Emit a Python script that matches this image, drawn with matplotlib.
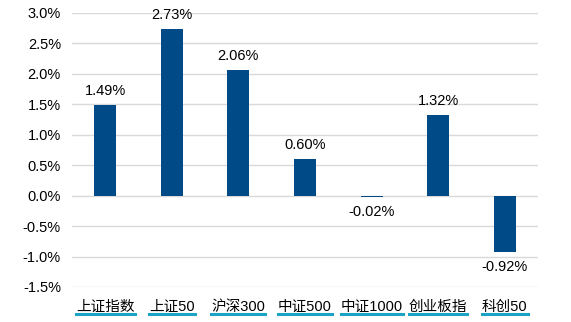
import matplotlib
matplotlib.use("Agg")
import matplotlib.pyplot as plt
from matplotlib.lines import Line2D

categories = ["上证指数", "上证50", "沪深300", "中证500", "中证1000", "创业板指", "科创50"]
values = [1.49, 2.73, 2.06, 0.60, -0.02, 1.32, -0.92]
yticks = [-1.5, -1.0, -0.5, 0.0, 0.5, 1.0, 1.5, 2.0, 2.5, 3.0]

FAM = ["Liberation Sans", "Noto Sans CJK SC"]
BAR = "#004A87"
FS = 10.5

fig = plt.figure(figsize=(5.71, 3.22), dpi=100)
ax = fig.add_axes([72/571, 1-287/322, (538-72)/571, (287-13)/322])
x = list(range(len(categories)))
ax.bar(x, values, width=0.33, color=BAR, zorder=3)
ax.set_ylim(-1.5, 3.0)
ax.set_xlim(-0.5, len(categories)-0.5)
ax.set_yticks(yticks)
ax.set_yticklabels([f"{v:.1f}%" for v in yticks], family=FAM, fontsize=FS)
ax.yaxis.grid(True, color="#D9D9D9", linewidth=1, zorder=0)
ax.tick_params(axis="y", length=0, pad=8)
ax.tick_params(axis="x", length=0, pad=9)
for s in ax.spines.values():
    s.set_visible(False)
ax.set_xticks(x)
ax.set_xticklabels(categories, family=FAM, fontsize=FS)

for xi, v in zip(x, values):
    if v >= 0:
        ax.annotate(f"{v:.2f}%", (xi, v), xytext=(0, 5), textcoords="offset points",
                    ha="center", va="bottom", family=FAM, fontsize=FS)
    else:
        ax.annotate(f"{v:.2f}%", (xi, v), xytext=(0, -6), textcoords="offset points",
                    ha="center", va="top", family=FAM, fontsize=FS)

fig.canvas.draw()
r = fig.canvas.get_renderer()
for lab in ax.get_xticklabels():
    bb = lab.get_window_extent(r)
    y = bb.y0 - 0.5
    fig.add_artist(Line2D([bb.x0/571, bb.x1/571], [y/322, y/322],
                          transform=fig.transFigure, color="#1BA3C6", linewidth=2.2))

fig.savefig("out.png", dpi=100)
